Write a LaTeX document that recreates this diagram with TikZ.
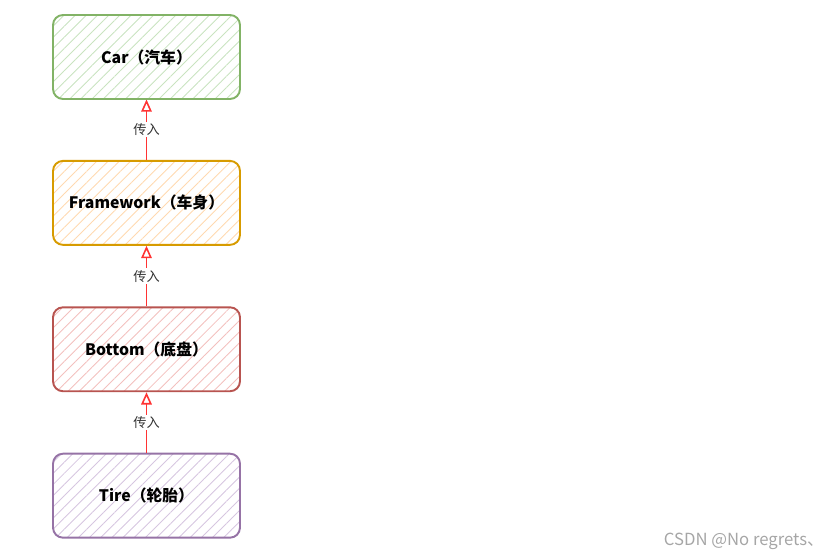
\documentclass[tikz,border=0pt]{standalone}
\usepackage{fontspec}
\setmainfont{Noto Sans CJK SC}
\usetikzlibrary{positioning,arrows.meta,patterns.meta}
\definecolor{carline}{HTML}{82B366}
\definecolor{carfill}{HTML}{C9E3C0}
\definecolor{frameline}{HTML}{D79B00}
\definecolor{framefill}{HTML}{FFD9B0}
\definecolor{bottomline}{HTML}{B85450}
\definecolor{bottomfill}{HTML}{F3C0BE}
\definecolor{tireline}{HTML}{9673A6}
\definecolor{tirefill}{HTML}{D6C6E0}

\begin{document}
\begin{tikzpicture}[x=0.02cm,y=-0.02cm,
  part/.style 2 args={draw=#1, line width=1.1pt, rounded corners=0.2cm,
    pattern={Lines[angle=45,distance=4.5pt,line width=.5pt]}, pattern color=#2,
    minimum width=3.74cm, minimum height=1.68cm,
    font=\fontsize{9}{11}\selectfont\bfseries},
  pass/.style={color=red!80, line width=.9pt, -{Triangle[open,length=7pt,width=6pt]}},
  passlabel/.style={fill=white, inner sep=1pt, text=black!80, font=\fontsize{7.5}{9}\selectfont}]
  \useasboundingbox (0,0) rectangle (840,560);

  % the four parts, top to bottom
  \node[part={carline}{carfill}] (car) at (146.5,57) {Car（汽车）};
  \node[part={frameline}{framefill}, below=1.21cm of car] (frame) {Framework（车身）};
  \node[part={bottomline}{bottomfill}, below=1.21cm of frame] (bottom) {Bottom（底盘）};
  \node[part={tireline}{tirefill}, below=1.21cm of bottom] (tire) {Tire（轮胎）};

  % each part is passed up into the next one
  \foreach \a/\b in {frame/car, bottom/frame, tire/bottom} {
    \draw[pass] (\a) -- node[passlabel] {传入} (\b);
  }

  \node[anchor=east, text=gray!70, font=\fontsize{9.5}{11}\selectfont] (mark) at (830,541) {CSDN @No regrets、};
\end{tikzpicture}
\end{document}
